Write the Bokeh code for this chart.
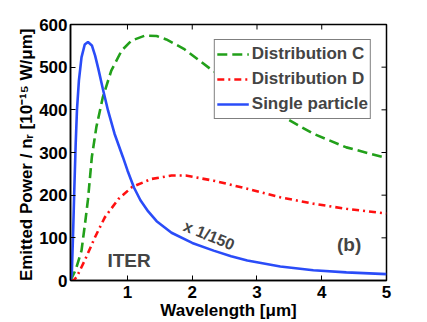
from bokeh.plotting import figure
from bokeh.models import Range1d, FixedTicker, Legend, LegendItem, Label
from bokeh.embed import file_html
from bokeh.resources import INLINE

# Data
wl_c = [0.12, 0.2, 0.29, 0.35, 0.39, 0.45, 0.52, 0.62, 0.75, 0.91, 1.06, 1.27, 1.45, 1.6, 1.87, 2.28, 2.85, 3.46, 3.87, 4.38, 5.0]
dist_c = [0, 25, 70, 140, 190, 290, 360, 430, 492, 539, 562, 574, 573, 565, 543, 496, 437, 379, 344, 312, 287]

wl_d = [0.12, 0.17, 0.215, 0.34, 0.5, 0.65, 0.86, 1.07, 1.37, 1.68, 1.9, 2.33, 2.85, 3.36, 3.87, 4.38, 5.0]
dist_d = [0, 1, 8, 47, 102, 148, 191, 219, 238, 246, 246, 234, 215, 195, 180, 168, 157]

wl_s = [0.12, 0.14, 0.16, 0.18, 0.2, 0.22, 0.25, 0.29, 0.34, 0.39, 0.45, 0.5, 0.55, 0.62, 0.7, 0.8, 0.93,
        1.0, 1.1, 1.2, 1.32, 1.45, 1.68, 2.0, 2.33, 2.6, 2.85, 3.36, 3.87, 4.38, 5.0]
single = [0, 15, 110, 220, 320, 400, 469, 523, 553, 559, 551, 527, 496, 449, 398, 344, 289,
          258, 218, 188, 162, 139, 112, 88, 70, 57, 47, 33, 24, 19, 15]

x_ticks = [1, 2, 3, 4, 5]
y_ticks = [0, 100, 200, 300, 400, 500, 600]
X_MIN, X_MAX = 0.12, 5
Y_MIN, Y_MAX = 0, 600

FONT = "Liberation Sans"

p = figure(width=427, height=322, output_backend="svg", toolbar_location=None,
           x_range=Range1d(X_MIN, X_MAX), y_range=Range1d(Y_MIN, Y_MAX),
           min_border_left=70, min_border_top=24, min_border_right=41, min_border_bottom=40)
p.background_fill_color = "white"
p.border_fill_color = "white"
p.grid.visible = False
p.outline_line_color = "black"
p.outline_line_width = 1.5

for ax in (p.xaxis[0], p.yaxis[0]):
    ax.major_label_text_font = FONT
    ax.major_label_text_font_style = "bold"
    ax.major_label_text_font_size = "17px"
    ax.major_label_text_color = "black"
    ax.axis_label_text_font = FONT
    ax.axis_label_text_font_style = "bold"
    ax.axis_label_text_font_size = "17px"
    ax.axis_label_text_color = "black"
    ax.major_tick_in = 5
    ax.major_tick_out = 0
    ax.minor_tick_in = 0
    ax.minor_tick_out = 0
    ax.axis_line_width = 1.5
    ax.major_tick_line_width = 1
    ax.axis_label_standoff = 0

p.xaxis[0].major_label_standoff = 5
p.yaxis[0].major_label_standoff = 3
p.xaxis[0].ticker = FixedTicker(ticks=x_ticks)
p.yaxis[0].ticker = FixedTicker(ticks=y_ticks)
p.xaxis[0].axis_label = "Wavelength [μm]"
p.yaxis[0].axis_label = "Emitted Power / nᵣ  [10⁻¹⁵ W/μm]"

# inward ticks on the top and right edges of the box
tick_y = (Y_MAX - Y_MIN) * 5 / 256
tick_x = (X_MAX - X_MIN) * 5 / 316
p.segment(x0=x_ticks, y0=[Y_MAX] * len(x_ticks), x1=x_ticks, y1=[Y_MAX - tick_y] * len(x_ticks),
          line_color="black", line_width=1)
p.segment(x0=[X_MAX] * len(y_ticks), y0=y_ticks, x1=[X_MAX - tick_x] * len(y_ticks), y1=y_ticks,
          line_color="black", line_width=1)

rc = p.line(wl_c, dist_c, line_color="#22a01a", line_width=2.6, line_dash="10 5")
rd = p.line(wl_d, dist_d, line_color="#ff1010", line_width=2.6, line_dash="7 4 2 4")
rs = p.line(wl_s, single, line_color="#2a4cf8", line_width=2.6)

legend = Legend(items=[LegendItem(label="Distribution C", renderers=[rc]),
                       LegendItem(label="Distribution D", renderers=[rd]),
                       LegendItem(label="Single particle", renderers=[rs])],
                location="top_right")
legend.margin = 15
legend.padding = 2
legend.spacing = 1
legend.glyph_width = 32
legend.glyph_height = 24
legend.label_height = 24
legend.label_standoff = 3
legend.label_text_font = FONT
legend.label_text_font_style = "bold"
legend.label_text_font_size = "17px"
legend.border_line_color = "black"
legend.border_line_width = 1.2
legend.background_fill_alpha = 1
p.add_layout(legend, "center")

p.add_layout(Label(x=0.69, y=48, text="ITER", text_font=FONT, text_font_style="bold",
                   text_font_size="19px", text_baseline="middle", text_align="left"))
p.add_layout(Label(x=4.235, y=85, text="(b)", text_font=FONT, text_font_style="bold",
                   text_font_size="19px", text_baseline="middle", text_align="left"))
p.add_layout(Label(x=2.26, y=106, text="x 1/150", text_font=FONT, text_font_style="bold",
                   text_font_size="16px", text_baseline="middle", text_align="center",
                   angle=-0.39))

open("out.html", "w").write(file_html(p, INLINE))
